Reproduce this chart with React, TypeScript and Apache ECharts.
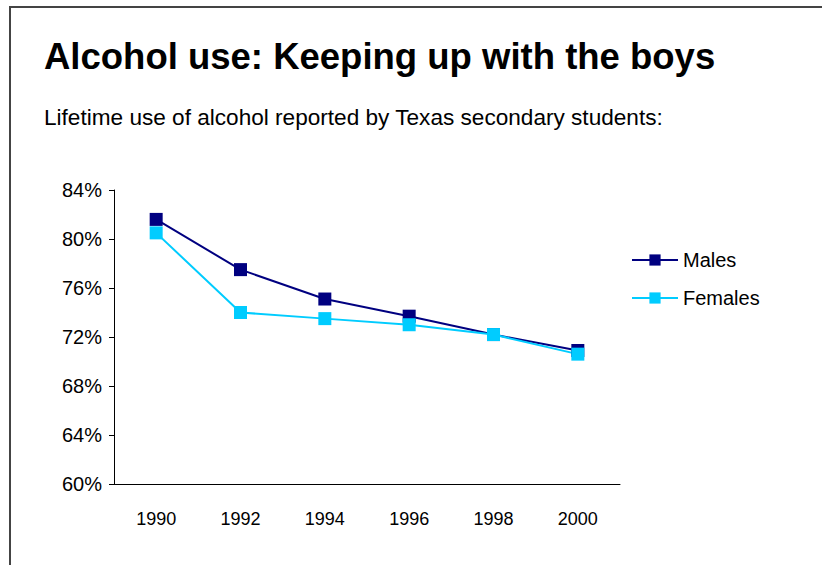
import React, { useEffect, useRef } from "react";
import * as echarts from "echarts";

const years = ["1990", "1992", "1994", "1996", "1998", "2000"];
const males = [81.6, 77.5, 75.1, 73.7, 72.2, 70.9];
const females = [80.5, 74.0, 73.5, 73.0, 72.2, 70.6];
const yTicks = { min: 60, max: 84, interval: 4 };

const title = "Alcohol use: Keeping up with the boys";
const subtitle = "Lifetime use of alcohol reported by Texas secondary students:";

export default function App() {
  const ref = useRef<HTMLDivElement>(null);
  useEffect(() => {
    document.body.style.margin = "0";
    if (!ref.current) return;
    const chart = echarts.init(ref.current, null, { renderer: "svg" });
    const font = "Liberation Sans, Arial, sans-serif";
    chart.setOption({
      animation: false,
      backgroundColor: "#fff",
      textStyle: { fontFamily: font },
      graphic: [
        {
          type: "polyline",
          shape: { points: [[10, 565], [10, 7], [822, 7]] },
          style: { stroke: "#444", lineWidth: 2, fill: "none" },
          silent: true,
        },
        {
          type: "text",
          left: 44,
          top: 38,
          style: { text: title, font: `bold 36.5px ${font}`, fill: "#000" },
        },
        {
          type: "text",
          left: 44,
          top: 106,
          style: { text: subtitle, font: `22.6px ${font}`, fill: "#000" },
        },
      ],
      grid: { left: 114, right: 202, top: 190, bottom: 81, containLabel: false },
      legend: {
        orient: "vertical",
        left: 626,
        top: 245,
        itemWidth: 46,
        itemHeight: 14,
        itemGap: 18,
        textStyle: { fontSize: 20, color: "#000", fontFamily: font },
        data: ["Males", "Females"],
      },
      xAxis: {
        type: "category",
        data: years,
        boundaryGap: true,
        axisLine: { lineStyle: { color: "#000", width: 1 } },
        axisTick: { inside: true, length: 5, lineStyle: { color: "#000" } },
        axisLabel: { color: "#000", fontSize: 18, margin: 26 },
      },
      yAxis: {
        type: "value",
        min: yTicks.min,
        max: yTicks.max,
        interval: yTicks.interval,
        axisLine: { show: true, lineStyle: { color: "#000", width: 1 } },
        axisTick: { show: true, length: 5, lineStyle: { color: "#000" } },
        splitLine: { show: false },
        axisLabel: { color: "#000", fontSize: 20, margin: 12, formatter: "{value}%" },
      },
      series: [
        {
          name: "Males",
          type: "line",
          data: males,
          symbol: "rect",
          symbolSize: 13,
          color: "#000080",
          lineStyle: { color: "#000080", width: 2 },
          itemStyle: { color: "#000080" },
        },
        {
          name: "Females",
          type: "line",
          data: females,
          symbol: "rect",
          symbolSize: 13,
          color: "#00CCFF",
          lineStyle: { color: "#00CCFF", width: 2 },
          itemStyle: { color: "#00CCFF" },
        },
      ],
    });
    return () => chart.dispose();
  }, []);
  return <div ref={ref} style={{ width: 822, height: 565 }} />;
}
